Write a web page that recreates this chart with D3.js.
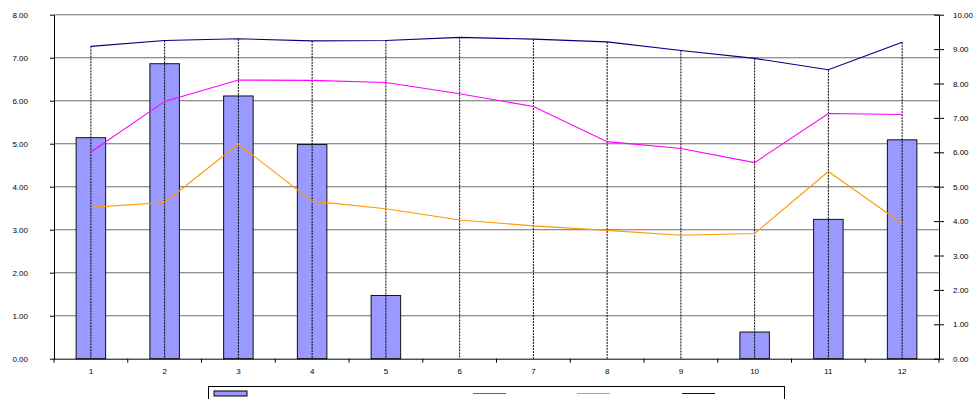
<!DOCTYPE html>
<html><head><meta charset="utf-8">
<script src="https://cdn.jsdelivr.net/npm/d3@7"></script>
<style>
html,body{margin:0;padding:0;background:#fff;}
svg{display:block;font-family:"Liberation Sans",Arial,sans-serif;}
</style></head>
<body>
<svg id="c" width="973" height="399"></svg>
<script>
const categories = ["1","2","3","4","5","6","7","8","9","10","11","12"];
const barValues = [5.14, 6.86, 6.11, 4.98, 1.47, 0, 0, 0, 0, 0.62, 3.24, 5.09];
const magentaValues = [6.01, 7.48, 8.10, 8.09, 8.03, 7.70, 7.33, 6.31, 6.11, 5.70, 7.13, 7.10];
const orangeValues = [4.40, 4.54, 6.24, 4.58, 4.36, 4.03, 3.86, 3.73, 3.59, 3.64, 5.44, 3.93];
const navyValues = [9.08, 9.25, 9.30, 9.24, 9.25, 9.34, 9.29, 9.21, 8.96, 8.73, 8.40, 9.20];
const leftTicks = [0,1,2,3,4,5,6,7,8];
const rightTicks = [0,1,2,3,4,5,6,7,8,9,10];

const svg = d3.select("#c");
const L = 54, R = 939, T = 14.7, B = 358.7;

const x = d3.scaleBand().domain(categories).range([L, R]).padding(0);
const yL = d3.scaleLinear().domain([0, 8]).range([B, T]);
const yR = d3.scaleLinear().domain([0, 10]).range([B, T]);

// gridlines
svg.append("g").selectAll("line").data(leftTicks.slice(1)).join("line")
  .attr("x1", L).attr("x2", R)
  .attr("y1", d => yL(d)).attr("y2", d => yL(d))
  .attr("stroke", "#6e6e6e").attr("stroke-width", 1.1);

// bars
const bw = x.bandwidth() * 0.4;
svg.append("g").selectAll("rect").data(categories.map((c,i)=>({c, v: barValues[i]})).filter(d=>d.v>0)).join("rect")
  .attr("x", d => x(d.c) + (x.bandwidth() - bw) / 2)
  .attr("width", bw)
  .attr("y", d => yL(d.v))
  .attr("height", d => yL(0) - yL(d.v))
  .attr("fill", "#9999FF").attr("stroke", "#111").attr("stroke-width", 1);

// drop lines
const cx = c => x(c) + x.bandwidth() / 2;
svg.append("g").selectAll("line").data(categories.map((c,i)=>({c, v: Math.max(magentaValues[i], orangeValues[i], navyValues[i])}))).join("line")
  .attr("x1", d => cx(d.c)).attr("x2", d => cx(d.c))
  .attr("y1", d => yR(d.v)).attr("y2", B)
  .attr("stroke", "#000").attr("stroke-width", 1).attr("stroke-dasharray", "2,1");

// lines
const series = [
  {vals: magentaValues, color: "#FF00FF"},
  {vals: orangeValues, color: "#FF9900"},
  {vals: navyValues, color: "#000080"}
];
const lineGen = d3.line().x((d,i) => cx(categories[i])).y(d => yR(d));
series.forEach(s => {
  svg.append("path").datum(s.vals).attr("d", lineGen)
    .attr("fill", "none").attr("stroke", s.color).attr("stroke-width", 1.1);
});

// left axis
const gL = svg.append("g").attr("transform", `translate(${L},0)`)
  .call(d3.axisLeft(yL).tickValues(leftTicks).tickFormat(d3.format(".2f")).tickSize(4).tickSizeOuter(0).tickPadding(22));
gL.select(".domain").attr("stroke", "#000");
gL.selectAll("text").attr("font-size", 8).attr("fill", "#000").attr("font-family", "Liberation Sans, Arial, sans-serif");

// right axis
const gR = svg.append("g").attr("transform", `translate(${R},0)`)
  .call(d3.axisRight(yR).tickValues(rightTicks).tickFormat(d3.format(".2f")).tickSize(5).tickSizeOuter(0).tickPadding(9));
gR.selectAll(".tick line").attr("x1", -5);
gR.select(".domain").attr("stroke", "#000");
gR.selectAll("text").attr("font-size", 8).attr("fill", "#000").attr("font-family", "Liberation Sans, Arial, sans-serif");

// bottom axis
const gB = svg.append("g").attr("transform", `translate(0,${B})`)
  .call(d3.axisBottom(x).tickSize(0).tickPadding(10));
gB.select(".domain").attr("stroke", "#000").attr("d", `M${L},0.5H${R}`);
gB.selectAll("text").attr("font-size", 8).attr("fill", "#000").attr("font-family", "Liberation Sans, Arial, sans-serif");
const bounds = categories.map(c => x(c)).concat([R]);
gB.append("g").selectAll("line").data(bounds).join("line")
  .attr("x1", d => d).attr("x2", d => d).attr("y1", 0).attr("y2", 4)
  .attr("stroke", "#000");

// legend
const lg = svg.append("g");
lg.append("rect").attr("x", 208.5).attr("y", 386.5).attr("width", 576).attr("height", 20)
  .attr("fill", "#fff").attr("stroke", "#000").attr("stroke-width", 1);
lg.append("rect").attr("x", 214).attr("y", 391).attr("width", 33).attr("height", 5)
  .attr("fill", "#9999FF").attr("stroke", "#000").attr("stroke-width", 1);
const legendLines = [
  {x0: 473, color: "#FF00FF"},
  {x0: 577, color: "#FF9900"},
  {x0: 682, color: "#000080"}
];
legendLines.forEach(d => {
  lg.append("line").attr("class", "ll")
    .attr("x1", d.x0).attr("x2", d.x0 + 33).attr("y1", 393.5).attr("y2", 393.5)
    .attr("stroke", d.color).attr("stroke-width", 1.1);
});
</script>
</body></html>
